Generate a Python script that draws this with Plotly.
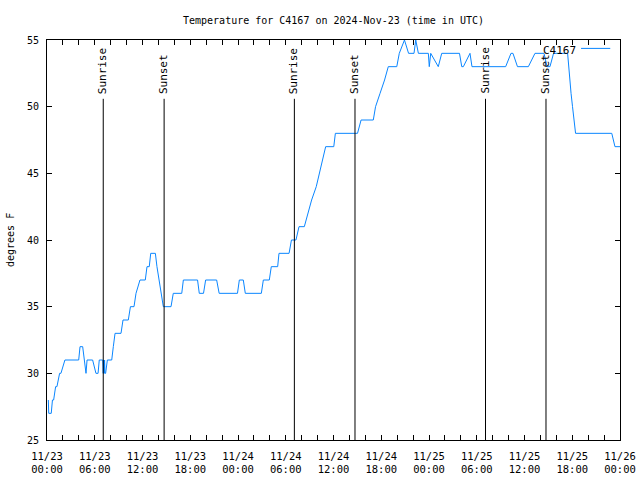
import plotly.graph_objects as go
import pandas as pd

# ---- data ----
times = [
    "2024-11-23 00:10", "2024-11-23 00:13", "2024-11-23 00:32", "2024-11-23 00:41", "2024-11-23 00:50",
    "2024-11-23 01:05", "2024-11-23 01:15", "2024-11-23 01:35", "2024-11-23 01:45", "2024-11-23 02:15",
    "2024-11-23 03:59", "2024-11-23 04:09", "2024-11-23 04:29", "2024-11-23 04:43", "2024-11-23 04:54",
    "2024-11-23 05:02", "2024-11-23 05:44", "2024-11-23 06:09", "2024-11-23 06:25", "2024-11-23 06:34",
    "2024-11-23 07:00", "2024-11-23 07:04", "2024-11-23 07:08", "2024-11-23 07:11", "2024-11-23 07:14",
    "2024-11-23 07:17", "2024-11-23 07:22", "2024-11-23 07:35", "2024-11-23 08:08", "2024-11-23 08:20",
    "2024-11-23 08:33", "2024-11-23 09:18", "2024-11-23 09:33", "2024-11-23 10:13", "2024-11-23 10:29",
    "2024-11-23 10:56", "2024-11-23 11:11", "2024-11-23 11:41", "2024-11-23 12:21", "2024-11-23 12:34",
    "2024-11-23 12:51", "2024-11-23 13:02", "2024-11-23 13:37", "2024-11-23 13:49", "2024-11-23 14:04",
    "2024-11-23 14:17", "2024-11-23 14:37", "2024-11-23 15:35", "2024-11-23 15:52", "2024-11-23 16:56",
    "2024-11-23 17:08", "2024-11-23 18:55", "2024-11-23 19:08", "2024-11-23 19:40", "2024-11-23 19:56",
    "2024-11-23 21:19", "2024-11-23 21:38", "2024-11-23 23:56",
    "2024-11-24 00:10", "2024-11-24 00:40", "2024-11-24 00:55", "2024-11-24 02:56", "2024-11-24 03:11",
    "2024-11-24 03:56", "2024-11-24 04:11", "2024-11-24 04:59", "2024-11-24 05:09", "2024-11-24 06:25",
    "2024-11-24 06:43", "2024-11-24 07:17", "2024-11-24 07:40", "2024-11-24 08:20", "2024-11-24 08:45",
    "2024-11-24 09:15", "2024-11-24 09:50", "2024-11-24 10:15", "2024-11-24 10:40", "2024-11-24 11:01",
    "2024-11-24 12:02", "2024-11-24 12:14", "2024-11-24 15:01", "2024-11-24 15:28", "2024-11-24 17:00",
    "2024-11-24 17:17", "2024-11-24 17:51", "2024-11-24 18:25", "2024-11-24 18:53", "2024-11-24 19:57",
    "2024-11-24 20:16", "2024-11-24 20:55", "2024-11-24 21:26", "2024-11-24 22:07", "2024-11-24 22:20",
    "2024-11-24 22:40", "2024-11-24 23:55",
    "2024-11-25 00:02", "2024-11-25 00:13", "2024-11-25 01:10", "2024-11-25 01:36", "2024-11-25 03:50",
    "2024-11-25 04:07", "2024-11-25 04:19", "2024-11-25 05:09", "2024-11-25 05:24", "2024-11-25 09:38",
    "2024-11-25 10:18", "2024-11-25 10:33", "2024-11-25 11:07", "2024-11-25 12:29", "2024-11-25 13:19",
    "2024-11-25 14:27", "2024-11-25 14:50", "2024-11-25 15:12", "2024-11-25 15:39", "2024-11-25 17:25",
    "2024-11-25 17:32", "2024-11-25 17:40", "2024-11-25 17:51", "2024-11-25 18:02", "2024-11-25 18:13",
    "2024-11-25 18:25", "2024-11-25 22:58", "2024-11-25 23:22", "2024-11-26 00:00",
]
temps = [
    28, 27, 27, 28, 28,
    29, 29, 30, 30, 31,
    31, 32, 32, 31, 30,
    31, 31, 30, 30, 31,
    31, 30, 31, 30, 31,
    30, 30, 31, 31, 32,
    33, 33, 34, 34, 35,
    35, 36, 37, 37, 38,
    38, 39, 39, 38, 37,
    36, 35, 35, 36, 36,
    37, 37, 36, 36, 37,
    37, 36, 36,
    37, 37, 36, 36, 37,
    37, 38, 38, 39, 39,
    40, 40, 41, 41, 42,
    43, 44, 45, 46, 47,
    47, 48, 48, 49, 49,
    50, 51, 52, 53, 53,
    54, 55, 54, 54, 55,
    54, 54,
    53, 54, 53, 54, 54,
    53, 53, 54, 53, 53,
    54, 54, 53, 53, 54,
    54, 53, 53, 54, 54,
    53, 52, 51, 50, 49,
    48, 48, 47, 47,
]

sun_times = ["2024-11-23 07:04", "2024-11-23 14:43", "2024-11-24 07:05",
             "2024-11-24 14:42", "2024-11-25 07:06", "2024-11-25 14:42"]
sun_labels = ["Sunrise", "Sunset", "Sunrise", "Sunset", "Sunrise", "Sunset"]

series_name = "C4167"
title_text = "Temperature for C4167 on 2024-Nov-23 (time in UTC)"
y_label = "degrees F"
x_start, x_end = "2024-11-23 00:00", "2024-11-26 00:00"
y_ticks = [25, 30, 35, 40, 45, 50, 55]
x_label_dates = ["11/23", "11/23", "11/23", "11/23", "11/24", "11/24", "11/24",
                 "11/24", "11/25", "11/25", "11/25", "11/25", "11/26"]
x_label_hours = ["00:00", "06:00", "12:00", "18:00", "00:00", "06:00", "12:00",
                 "18:00", "00:00", "06:00", "12:00", "18:00", "00:00"]

LINE_COLOR = "#0a86ff"
FONT = "DejaVu Sans Mono"

# tick positions every 2h, labels every 6h
tick_pos = list(pd.date_range(x_start, x_end, freq="2h"))
tick_txt = []
k = 0
for i, t in enumerate(tick_pos):
    if i % 3 == 0:
        tick_txt.append(x_label_dates[k] + "<br>" + x_label_hours[k])
        k += 1
    else:
        tick_txt.append("")

fig = go.Figure()
fig.add_trace(go.Scatter(x=pd.to_datetime(times), y=temps, mode="lines",
                         line=dict(color=LINE_COLOR, width=1), name=series_name,
                         showlegend=False, hoverinfo="skip"))

shapes = []
annotations = []
for t, lab in zip(sun_times, sun_labels):
    shapes.append(dict(type="line", xref="x", yref="paper", x0=t, x1=t, y0=0, y1=0.853,
                       line=dict(color="black", width=1)))
    annotations.append(dict(x=t, y=0.86, xref="x", yref="paper", text=lab, textangle=-90,
                            showarrow=False, xanchor="center", yanchor="bottom", xshift=-1,
                            font=dict(family=FONT, size=11, color="black")))

# legend (gnuplot style: text then sample line)
annotations.append(dict(x=0.927, y=0.975, xref="paper", yref="paper", text=series_name,
                        showarrow=False, xanchor="right", yanchor="middle",
                        font=dict(family=FONT, size=11, color="black")))
shapes.append(dict(type="line", xref="paper", yref="paper", x0=0.932, x1=0.983,
                   y0=0.979, y1=0.979, line=dict(color=LINE_COLOR, width=1)))

# y-axis title as annotation
annotations.append(dict(x=0, y=0.5, xref="paper", yref="paper", text=y_label, textangle=-90,
                        showarrow=False, xanchor="center", yanchor="middle", xshift=-37,
                        font=dict(family=FONT, size=10, color="black")))

fig.update_layout(
    width=640, height=480,
    margin=dict(l=47, r=20, t=40, b=40, autoexpand=False),
    paper_bgcolor="white", plot_bgcolor="white",
    font=dict(family=FONT, size=10, color="black"),
    title=dict(text=title_text, x=333.5 / 640, xanchor="center", xref="container",
               y=1 - 20 / 480, yanchor="middle", yref="container", font=dict(family=FONT, size=10),
               automargin=False),
    showlegend=False,
    shapes=shapes, annotations=annotations,
    xaxis=dict(type="date", range=[x_start, x_end], tickvals=tick_pos, ticktext=tick_txt,
               ticks="inside", ticklen=5, tickcolor="black", showline=True, linecolor="black",
               linewidth=1, mirror="allticks", showgrid=False, zeroline=False, automargin=False,
               ticklabelstandoff=6, tickfont=dict(family=FONT, size=10.5)),
    yaxis=dict(range=[25, 55], tickvals=y_ticks, ticks="inside", ticklen=5, tickcolor="black",
               showline=True, linecolor="black", linewidth=1, mirror="allticks", automargin=False,
               ticklabelstandoff=5,
               showgrid=False, zeroline=False, tickfont=dict(family=FONT, size=10)),
)

fig.write_html("out.html", config={"displayModeBar": False},
               post_script="document.body.style.margin='0';document.body.style.overflow='hidden';")
